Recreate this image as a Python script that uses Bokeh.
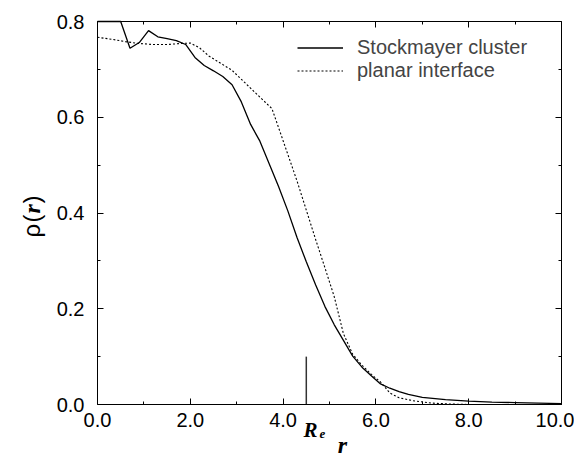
import numpy as np
from bokeh.plotting import figure
from bokeh.models import (Range1d, FixedTicker, LinearAxis, Label, Legend, LegendItem,
                          CustomJSTickFormatter, PrintfTickFormatter)
from bokeh.embed import file_html
from bokeh.resources import INLINE

# ---------------- data ----------------
r_stock = [0.0, 0.5, 0.7, 0.9, 1.1, 1.3, 1.5, 1.7, 1.9, 2.1, 2.3, 2.5, 2.7,
           2.9, 3.1, 3.3, 3.5, 3.7, 3.9, 4.1, 4.3, 4.5, 4.7, 4.9, 5.1, 5.3, 5.5, 5.7,
           5.9, 6.1, 6.3, 6.5, 6.7, 7.0, 7.5, 8.0, 8.5, 9.0, 9.5, 10.0]
rho_stock = [0.80, 0.80, 0.744, 0.756, 0.781, 0.768, 0.764, 0.760, 0.752,
             0.725, 0.708, 0.697, 0.685, 0.668, 0.632, 0.585, 0.550, 0.503, 0.456,
             0.405, 0.349, 0.298, 0.250, 0.205, 0.167, 0.134, 0.101, 0.078, 0.060,
             0.043, 0.034, 0.027, 0.021, 0.015, 0.010, 0.007, 0.005, 0.004, 0.003, 0.002]

r_planar = [0.0, 0.3, 0.6, 0.9, 1.2, 1.5, 1.8, 2.0, 2.2, 2.4, 2.6, 2.9, 3.2, 3.5, 3.76,
            3.9, 4.1, 4.3, 4.5, 4.7, 4.9, 5.1, 5.3, 5.5, 5.7, 5.9, 6.1, 6.3, 6.5, 6.8,
            7.2, 7.6, 8.0, 9.0, 10.0]
rho_planar = [0.767, 0.763, 0.758, 0.754, 0.752, 0.752, 0.754, 0.755, 0.745, 0.728,
              0.716, 0.698, 0.670, 0.642, 0.618, 0.579, 0.523, 0.467, 0.406, 0.345,
              0.286, 0.226, 0.148, 0.105, 0.082, 0.063, 0.047, 0.024, 0.014, 0.008,
              0.003, 0.001, 0.0, 0.0, 0.0]

series_names = ["Stockmayer cluster", "planar interface"]

x_lo, x_hi = 0.0, 10.0
y_lo, y_hi = 0.0, 0.8
x_major = [0, 2, 4, 6, 8, 10]
x_minor = [1, 3, 5, 7, 9]
y_major = [0.0, 0.2, 0.4, 0.6, 0.8]
y_minor = [0.1, 0.3, 0.5, 0.7]

r_e = 4.5
r_e_height = 0.1

FONT = "Liberation Sans"
SERIF = "Liberation Serif"

# canvas geometry (pixels): plot box from x=97..561, y=21..404
W, H = 574, 453
BOX_L, BOX_R, BOX_T, BOX_B = 97, 561, 21, 404
sx = (BOX_R - BOX_L) / (x_hi - x_lo)
sy = (BOX_B - BOX_T) / (y_hi - y_lo)

p = figure(width=W, height=H, output_backend="svg", toolbar_location=None,
           x_range=Range1d(x_lo - BOX_L / sx, x_hi + (W - BOX_R) / sx),
           y_range=Range1d(y_lo - (H - BOX_B) / sy, y_hi + BOX_T / sy),
           min_border=0, x_axis_location=None, y_axis_location=None)
p.grid.visible = False
p.outline_line_color = None
p.background_fill_color = "white"
p.border_fill_color = "white"


def make_axis(ticks, minor, loc, bounds, show_labels, standoff=0):
    ax = LinearAxis(fixed_location=loc, bounds=bounds)
    ax.ticker = FixedTicker(ticks=ticks, minor_ticks=minor)
    ax.axis_line_color = "black"
    ax.axis_line_width = 1
    ax.major_tick_in = 6
    ax.major_tick_out = 0
    ax.minor_tick_in = 3
    ax.minor_tick_out = 0
    ax.major_tick_line_color = "black"
    ax.minor_tick_line_color = "black"
    ax.major_label_text_font = FONT
    ax.major_label_text_font_size = "20px"
    ax.major_label_text_color = "black"
    ax.major_label_standoff = standoff
    if show_labels:
        ax.formatter = PrintfTickFormatter(format="%.1f")
    else:
        ax.formatter = CustomJSTickFormatter(code="return ''")
    return ax


p.add_layout(make_axis(x_major, x_minor, y_lo, (x_lo, x_hi), True, 8), "below")
p.add_layout(make_axis(y_major, y_minor, x_lo, (y_lo, y_hi), True, 13), "left")
p.add_layout(make_axis(x_major, x_minor, y_hi, (x_lo, x_hi), False), "above")
p.add_layout(make_axis(y_major, y_minor, x_hi, (y_lo, y_hi), False), "right")

l1 = p.line(r_stock, rho_stock, line_color="black", line_width=1.3)
l2 = p.line(r_planar, rho_planar, line_color="black", line_width=1.1, line_dash="2 2")

# R_e marker
p.segment(x0=[r_e], y0=[0], x1=[r_e], y1=[r_e_height], line_color="#333333", line_width=1.5)

legend = Legend(items=[LegendItem(label=series_names[0], renderers=[l1]),
                       LegendItem(label=series_names[1], renderers=[l2])],
                location=(297, H - 82), padding=0, margin=0, spacing=0,
                glyph_width=46, glyph_height=23, label_height=23, label_standoff=14,
                label_text_font=FONT, label_text_font_size="20px",
                border_line_color=None, background_fill_alpha=0)
p.add_layout(legend)


def px2x(px):
    return x_lo + (px - BOX_L) / sx


def px2y(py):
    return y_lo + (BOX_B - py) / sy


def serif_label(px, py, text, size, align="left"):
    p.add_layout(Label(x=px2x(px), y=px2y(py), text=text, text_font=SERIF,
                       text_font_style="bold italic", text_font_size=size,
                       text_color="black", text_align=align, text_baseline="alphabetic"))


serif_label(303, 429, "R", "21px")
serif_label(319, 433, "e", "13px")
serif_label(342, 444, "r", "24px", align="center")


def ylab(py, text, serif=False):
    p.add_layout(Label(x=px2x(31), y=px2y(py), text=text,
                       text_font=SERIF if serif else FONT,
                       text_font_style="bold italic" if serif else "normal",
                       text_font_size="24px", text_color="black", angle=np.pi / 2,
                       text_align="left", text_baseline="middle"))


ylab(237, "ρ")
ylab(222, "(")
ylab(213, "r", serif=True)
ylab(203, ")")

open("out.html", "w").write(file_html(p, INLINE))
